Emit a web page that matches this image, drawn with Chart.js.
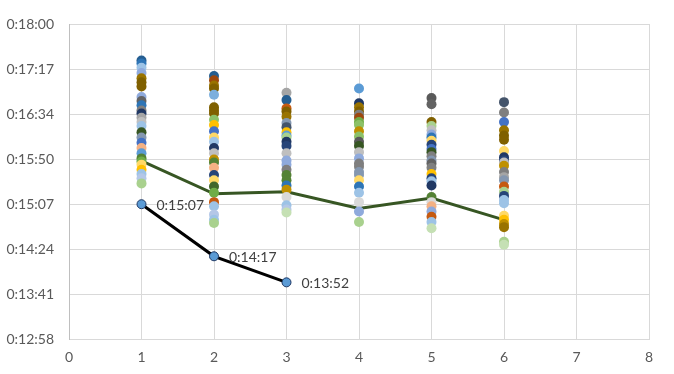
<!DOCTYPE html>
<html><head><meta charset="utf-8">
<script src="https://cdn.jsdelivr.net/npm/chart.js@4/dist/chart.umd.min.js"></script>
<style>html,body{margin:0;padding:0;background:#fff;}#wrap{width:674px;height:374px;}</style>
</head><body><div id="wrap"><canvas id="c" width="674" height="374"></canvas></div>
<script>
// Lap numbers (x) and times in seconds (y)
const lapNumbers = [1, 2, 3, 4, 5, 6];
const lap1Times = [1045,1042,1038,1033,1028,1024,1020,1010,1006,1002,997,994,990,986,982,976,971,966,961,956,951,948,945,940,936,932,927];
const lap2Times = [1030,1026,1021,1018,1012,1000,997,994,988,983,977,971,967,961,956,950,947,942,935,930,924,918,909,905,897,892,889];
const lap3Times = [1014,1007,999,996,991,985,981,976,973,971,967,963,956,949,945,940,935,930,925,921,914,906,902,899];
const lap4Times = [1018,1004,1000,996,993,990,986,983,977,972,967,963,957,951,946,943,938,935,930,924,918,909,900,890];
const lap5Times = [1009,1003,986,982,978,974,971,968,964,960,957,953,949,946,942,936,932,929,925,914,909,905,900,895,890,884];
const lap6Times = [1005,995,986,978,973,969,958,952,949,947,944,938,933,930,924,919,915,911,908,896,892,888,885,871,868];
const trendTimes = [948.5, 917, 919, 903, 913, 892];
const myLapNumbers = [1, 2, 3];
const myTimes = [907, 857, 832];
const yTickValues = [777.6, 820.8, 864, 907.2, 950.4, 993.6, 1036.8, 1080];

// Styles (kept apart from the data)
const lapColors = [
  ['#255E91','#2E75B6','#9DC3E6','#8FAADC','#997300','#7F6000','#806000','#8FAADC','#636363','#2E75B6','#7F7F7F','#203864','#A5A5A5','#BFBFBF','#9DC3E6','#375623','#8497B0','#4472C4','#F4B183','#5B9BD5','#548235','#70AD47','#FFD966','#FFC000','#9DC3E6','#B4C7E7','#A9D18E'],
  ['#255E91','#9E480E','#997300','#806000','#7CAFDD','#7F6000','#7F6000','#806000','#8CC168','#FFC000','#4472C4','#FFD966','#9DC3E6','#203864','#BFBFBF','#BF9000','#548235','#F4B183','#264478','#FFD966','#43682B','#70AD47','#C55A11','#9DC3E6','#B4C7E7','#9DC3E6','#A9D18E'],
  ['#A5A5A5','#255E91','#C55A11','#806000','#997300','#8497B0','#44546A','#FFC000','#5B9BD5','#A9D18E','#203864','#264478','#BFBFBF','#8FAADC','#8FAADC','#7F7F7F','#548235','#548235','#2E75B6','#BF9000','#D9D9D9','#9DC3E6','#B4C7E7','#C5E0B4'],
  ['#5B9BD5','#203864','#997300','#806000','#7F7F7F','#9E480E','#70AD47','#8CC168','#BF9000','#8CC168','#595959','#375623','#BFBFBF','#8FAADC','#7F7F7F','#7F7F7F','#8497B0','#8497B0','#FFD966','#2E75B6','#9DC3E6','#D9D9D9','#8FAADC','#A9D18E'],
  ['#595959','#636363','#806000','#A9D18E','#BFBFBF','#8FAADC','#2E75B6','#FFD966','#264478','#4472C4','#375623','#7F7F7F','#8497B0','#636363','#7F7F7F','#FFC000','#264478','#9DC3E6','#203864','#548235','#D9D9D9','#F4B183','#8FAADC','#C55A11','#9DC3E6','#C5E0B4'],
  ['#44546A','#7F7F7F','#4472C4','#997300','#7F6000','#806000','#FFD966','#203864','#264478','#BFBFBF','#BF9000','#7F7F7F','#A5A5A5','#8497B0','#C55A11','#A9D18E','#264478','#9DC3E6','#9DC3E6','#FFD966','#FFC000','#BF9000','#997300','#A9D18E','#C5E0B4']
];
const allLaps = [lap1Times, lap2Times, lap3Times, lap4Times, lap5Times, lap6Times];

function fmt(v){
  const t = Math.round(v);
  const h = Math.floor(t/3600), m = Math.floor((t%3600)/60), s = t%60;
  return h + ':' + String(m).padStart(2,'0') + ':' + String(s).padStart(2,'0');
}

const FONT = {family: 'Lato, "Open Sans", sans-serif', size: 14};

const datasets = [];
datasets.push({
  type: 'scatter', label: 'me',
  data: myLapNumbers.map((x,i)=>({x, y: myTimes[i]})),
  showLine: true, borderColor: '#000000', borderWidth: 3,
  pointRadius: 4.5, pointBackgroundColor: '#5B9BD5', pointBorderColor: '#1F3864', pointBorderWidth: 1,
  order: 0
});
allLaps.forEach((arr, k) => {
  datasets.push({
    type: 'scatter', label: 'lap' + (k+1),
    data: arr.map(y => ({x: lapNumbers[k], y})),
    showLine: false, pointRadius: 5, pointBorderWidth: 0,
    pointBackgroundColor: lapColors[k], order: 1
  });
});
datasets.push({
  type: 'scatter', label: 'trend',
  data: lapNumbers.map((x,i)=>({x, y: trendTimes[i]})),
  showLine: true, borderColor: '#375623', borderWidth: 3, pointRadius: 0,
  order: 2
});

const labelPlugin = {
  id: 'lbl',
  afterDatasetsDraw(chart){
    const meta = chart.getDatasetMeta(0);
    const ctx = chart.ctx;
    ctx.save();
    ctx.font = FONT.size + 'px ' + FONT.family;
    ctx.fillStyle = '#404040';
    ctx.textBaseline = 'middle';
    ctx.textAlign = 'left';
    meta.data.forEach((pt, i) => ctx.fillText(fmt(myTimes[i]), pt.x + 15, pt.y + 1));
    ctx.restore();
  }
};

new Chart(document.getElementById('c'), {
  type: 'scatter',
  data: {datasets},
  options: {
    responsive: false, animation: false, devicePixelRatio: 1,
    layout: {padding: {top: 24, right: 25, left: 0, bottom: 0}},
    plugins: {legend: {display: false}, tooltip: {enabled: false}},
    scales: {
      x: {
        type: 'linear', min: 0, max: 8,
        ticks: {stepSize: 1, color: '#595959', font: FONT, padding: 10},
        grid: {color: '#D9D9D9', drawTicks: false},
        border: {color: '#D9D9D9'},
        afterFit(s){ s.height = 35; }
      },
      y: {
        type: 'linear', min: 777.6, max: 1080,
        afterBuildTicks(s){ s.ticks = yTickValues.map(v => ({value: v})); },
        ticks: {color: '#595959', font: FONT, padding: 15, callback: v => fmt(v)},
        grid: {color: '#D9D9D9', drawTicks: false},
        border: {color: '#BFBFBF'},
        afterFit(s){ s.width = 69; }
      }
    }
  },
  plugins: [labelPlugin]
});
</script>
</body></html>
